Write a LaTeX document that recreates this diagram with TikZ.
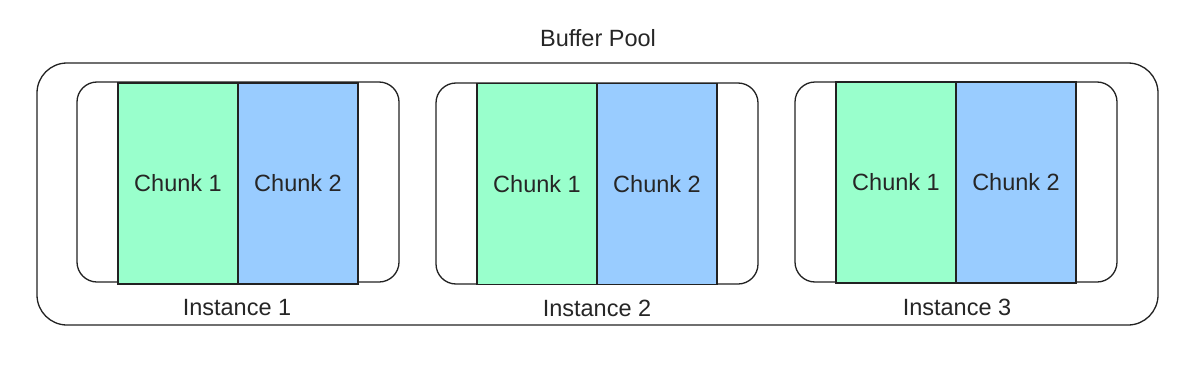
\documentclass[tikz,border=0pt]{standalone}
\usepackage{fontspec}
\setmainfont{Liberation Sans}
\definecolor{chunkgreen}{HTML}{99FFCC}
\definecolor{chunkblue}{HTML}{99CCFF}
\definecolor{linegray}{HTML}{222222}
\begin{document}
\begin{tikzpicture}[x=1pt,y=-1pt,
  every node/.style={font=\fontsize{23.5}{28}\selectfont, text=black!85},
  poolbox/.style={draw=linegray, line width=1.3pt, rounded corners=30pt, minimum width=1121pt, minimum height=262pt, inner sep=0pt},
  instbox/.style={draw=linegray, line width=1.3pt, rounded corners=20pt, minimum width=322pt, minimum height=200pt, inner sep=0pt},
  chunkone/.style={draw=linegray, line width=1.3pt, fill=chunkgreen, minimum width=120pt, minimum height=201pt, inner sep=0pt},
  chunktwo/.style={draw=linegray, line width=1.3pt, fill=chunkblue, minimum width=120pt, minimum height=201pt, inner sep=0pt},
  lbl/.style={inner sep=0pt}]
\useasboundingbox (0,0) rectangle (1201,364);
\fill[white] (0,0) rectangle (1201,364);
\node[poolbox] (pool) at (597.5,194) {};
\node[lbl] (pooltxt) at (598,38) {Buffer Pool};
% instance 1
\node[instbox] (i1) at (238,182) {};
\node[chunkone] (c11) at (178,183.5) {Chunk 1};
\node[chunktwo] (c12) at (298,183.5) {Chunk 2};
\node[lbl] (l1) at (237,308) {Instance 1};
% instance 2
\node[instbox, minimum height=201pt] (i2) at (597,183.5) {};
\node[chunkone] (c21) at (537,184) {Chunk 1};
\node[chunktwo] (c22) at (657,184) {Chunk 2};
\node[lbl] (l2) at (597,308) {Instance 2};
% instance 3
\node[instbox] (i3) at (956,182) {};
\node[chunkone] (c31) at (896,182.5) {Chunk 1};
\node[chunktwo] (c32) at (1016,182.5) {Chunk 2};
\node[lbl] (l3) at (957,307) {Instance 3};
\end{tikzpicture}
\end{document}
